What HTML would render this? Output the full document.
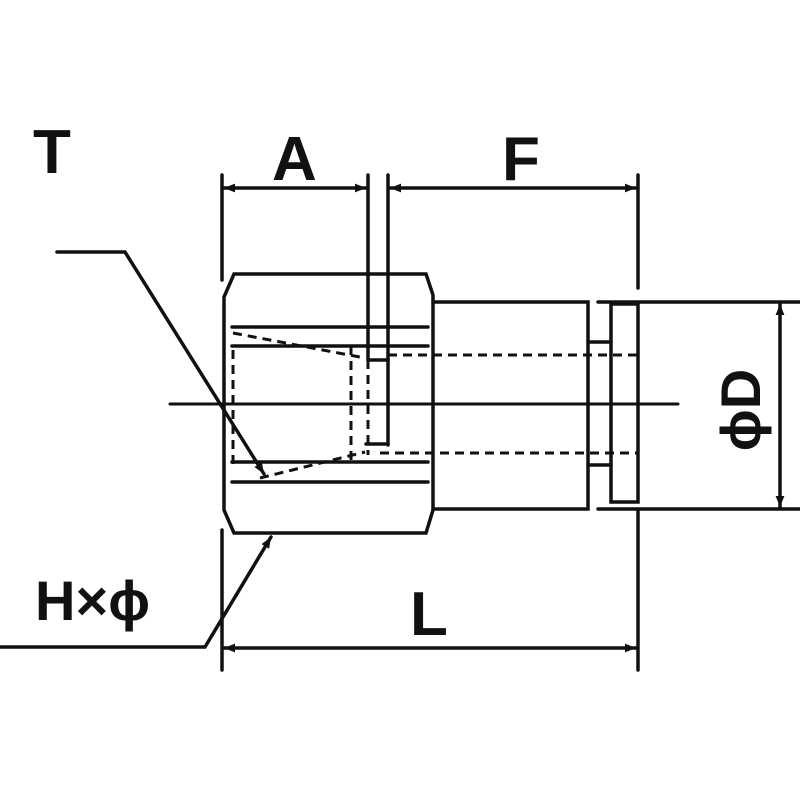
<!DOCTYPE html>
<html><head><style>html,body{margin:0;padding:0;background:#fff}svg{display:block}</style></head>
<body>
<svg width="800" height="800" viewBox="0 0 800 800" xmlns="http://www.w3.org/2000/svg">
<defs>
<marker id="ar" viewBox="0 0 10 10" refX="10" refY="5" markerWidth="16" markerHeight="11" markerUnits="userSpaceOnUse" orient="auto-start-reverse"><path d="M0,1 L10,5 L0,9 Z" fill="#111"/></marker>
</defs>
<g stroke="#111" stroke-width="3.5" fill="none" stroke-linecap="round">
<line x1="222" y1="175" x2="222" y2="280"/>
<line x1="368" y1="175" x2="368" y2="360"/>
<line x1="388" y1="175" x2="388" y2="445"/>
<line x1="638" y1="175" x2="638" y2="288"/>
<line x1="222" y1="530" x2="222" y2="670"/>
<line x1="638" y1="510" x2="638" y2="670"/>
<line x1="224" y1="188" x2="366" y2="188" marker-start="url(#ar)" marker-end="url(#ar)"/>
<line x1="390" y1="188" x2="636" y2="188" marker-start="url(#ar)" marker-end="url(#ar)"/>
<line x1="224" y1="648" x2="636" y2="648" marker-start="url(#ar)" marker-end="url(#ar)"/>
<line x1="780" y1="304" x2="780" y2="507" marker-start="url(#ar)" marker-end="url(#ar)"/>
<path d="M234,274 L426,274 L433,295 L433,510 L426,533 L234,533 L224,510 L224,297 Z"/>
<line x1="232" y1="327" x2="428" y2="327"/>
<line x1="232" y1="346" x2="428" y2="346"/>
<line x1="232" y1="462" x2="428" y2="462"/>
<line x1="232" y1="482" x2="428" y2="482"/>
<line x1="368" y1="360" x2="388" y2="360"/>
<line x1="366" y1="444" x2="388" y2="444"/>
<path d="M433,302 L588,302 L588,509 L433,509"/>
<line x1="598" y1="302" x2="800" y2="302"/>
<line x1="598" y1="509" x2="800" y2="509"/>
<line x1="588" y1="342" x2="611" y2="342"/>
<line x1="588" y1="465" x2="611" y2="465"/>
<rect x="611" y="304" width="27" height="198"/>
<line x1="170" y1="404" x2="678" y2="404" stroke-width="3"/>
<polyline points="57,252 125,252 264,474" marker-end="url(#ar)"/>
<polyline points="0,647 205,647 271,537" marker-end="url(#ar)"/>
</g>
<g stroke="#111" stroke-width="3" fill="none" stroke-dasharray="9,6">
<line x1="233" y1="333" x2="365" y2="358"/>
<line x1="233" y1="350" x2="233" y2="470"/>
<line x1="260" y1="478" x2="365" y2="452"/>
<line x1="351" y1="346" x2="351" y2="460"/>
<line x1="368" y1="360" x2="368" y2="455"/>
<line x1="388" y1="355" x2="638" y2="355"/>
<line x1="380" y1="453" x2="638" y2="453"/>
</g>
<g font-family="Liberation Sans, sans-serif" font-weight="bold" font-size="62" fill="#111">
<text x="33" y="173">T</text>
<text x="272" y="180">A</text>
<text x="502" y="180">F</text>
<text x="410" y="635">L</text>
<text x="35" y="620" font-size="56">H×ϕ</text>
<text transform="translate(760,410) rotate(-90)" text-anchor="middle" font-size="56">ϕD</text>
</g>
</svg>
</body></html>
